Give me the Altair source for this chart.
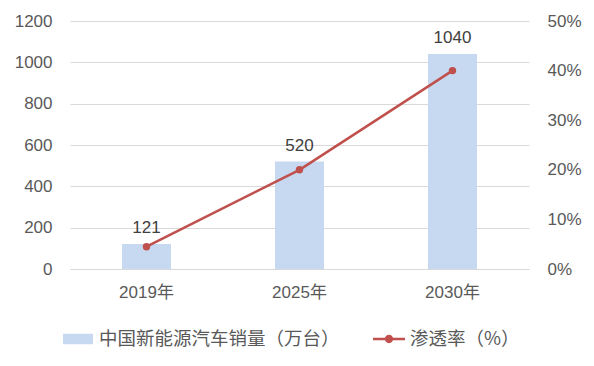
import altair as alt
import pandas as pd

years = ["2019年", "2025年", "2030年"]
sales = [121, 520, 1040]
rate = [0.045, 0.20, 0.40]
bar_name = "中国新能源汽车销量（万台）"
line_name = "渗透率（%）"

left_ticks = [0, 200, 400, 600, 800, 1000, 1200]
right_ticks = [0, 0.1, 0.2, 0.3, 0.4, 0.5]

df = pd.DataFrame({"year": years, "sales": sales, "rate": rate,
                   "bar_series": [bar_name] * 3, "line_series": [line_name] * 3})

BAR_COLOR = "#c6d9f0"
LINE_COLOR = "#c0504d"
TEXT_COLOR = "#595959"
GRID = "#d9d9d9"
NUM_FONT = "Liberation Sans, Noto Sans CJK SC"
CJK_FONT = "Noto Sans CJK SC"

x_enc = alt.X("year:N", sort=years, title=None,
              scale=alt.Scale(paddingInner=0.68, paddingOuter=0.34),
              axis=alt.Axis(labelAngle=0, ticks=False, domainColor=GRID, domainWidth=1,
                            labelFont=NUM_FONT, labelFontSize=17, labelColor=TEXT_COLOR,
                            labelPadding=15, grid=False))

y_left = alt.Y("sales:Q", title=None,
               scale=alt.Scale(domain=[0, 1200], nice=False),
               axis=alt.Axis(orient="left", values=left_ticks, format="d", grid=True,
                             gridColor=GRID, domain=False, ticks=False, labelPadding=18,
                             labelFont=NUM_FONT, labelFontSize=17, labelColor=TEXT_COLOR))

bars = alt.Chart(df).mark_bar(color=BAR_COLOR).encode(
    x=x_enc,
    y=y_left,
    fill=alt.Fill("bar_series:N",
                  scale=alt.Scale(domain=[bar_name], range=[BAR_COLOR]),
                  legend=alt.Legend(orient="none", legendX=-7, legendY=303, title=None,
                                    symbolType="M-1,-0.35H1V0.35H-1Z", symbolSize=900,
                                    symbolStrokeWidth=0, labelOffset=6,
                                    labelFont=CJK_FONT, labelFontSize=18.5,
                                    labelColor=TEXT_COLOR, labelLimit=400)),
)

labels = alt.Chart(df).mark_text(baseline="alphabetic", dy=-11, font=NUM_FONT,
                                 fontSize=17, color="#404040").encode(
    x=alt.X("year:N", sort=years),
    y=alt.Y("sales:Q"),
    text=alt.Text("sales:Q"),
)

y_right = alt.Y("rate:Q", title=None,
                scale=alt.Scale(domain=[0, 0.5], nice=False),
                axis=alt.Axis(orient="right", values=right_ticks, format=".0%", grid=False,
                              domain=False, ticks=False, labelPadding=18,
                              labelFont=NUM_FONT, labelFontSize=17, labelColor=TEXT_COLOR))

line = alt.Chart(df).mark_line(color=LINE_COLOR, strokeWidth=2.5).encode(
    x=alt.X("year:N", sort=years),
    y=y_right,
)

points = alt.Chart(df).mark_circle(size=55, opacity=1).encode(
    x=alt.X("year:N", sort=years),
    y=alt.Y("rate:Q"),
    color=alt.Color("line_series:N",
                    scale=alt.Scale(domain=[line_name], range=[LINE_COLOR]),
                    legend=alt.Legend(orient="none", legendX=303, legendY=302, title=None,
                                      symbolType="M-1,-0.08H1V0.08H-1Z M-0.26,0A0.26,0.26 0 1,1 0.26,0A0.26,0.26 0 1,1 -0.26,0Z",
                                      symbolSize=1024, symbolStrokeWidth=0, symbolOpacity=1,
                                      labelOffset=5, labelFont=CJK_FONT, labelFontSize=18.5,
                                      labelColor=TEXT_COLOR, labelLimit=400)),
)

chart = alt.layer(
    alt.layer(bars, labels),
    alt.layer(line, points),
).resolve_scale(y="independent").properties(
    width=459, height=248,
    autosize=alt.AutoSizeParams(type="none"),
    padding={"left": 62, "top": 13, "right": 57, "bottom": 89},
).configure_view(stroke=None)

chart.save("out.html", embed_options={"renderer": "svg", "actions": False})
